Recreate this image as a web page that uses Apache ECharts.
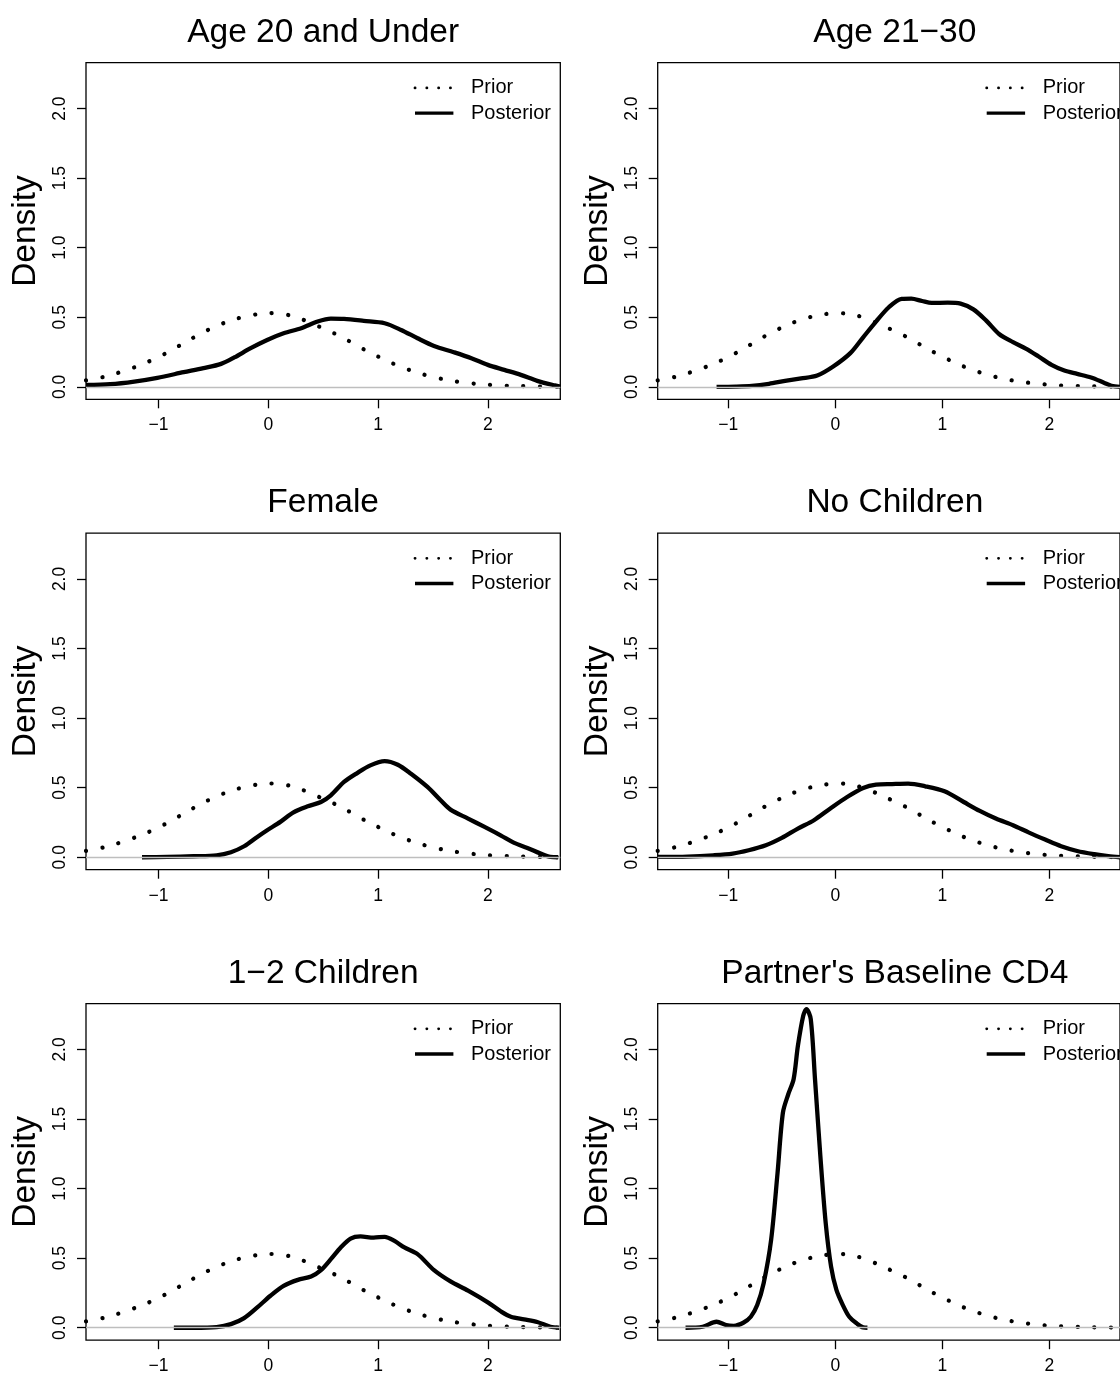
<!DOCTYPE html>
<html><head><meta charset="utf-8">
<script src="https://cdn.jsdelivr.net/npm/echarts@6/dist/echarts.min.js"></script>
<style>html,body{margin:0;padding:0;background:#fff}#c{width:1120px;height:1376px}</style>
</head><body><div id="c"></div>
<script>
// ---------- data ----------
const panelTitles = ['Age 20 and Under', 'Age 21\u221230', 'Female', 'No Children', '1\u22122 Children', "Partner's Baseline CD4"];
const xTicks = [-1, 0, 1, 2];
const yTicks = [0, 0.5, 1.0, 1.5, 2.0];
const xRange = [-1.66, 2.66];
const yRange = [-0.0896, 2.3296];
const seriesNames = ['Prior', 'Posterior'];

// Prior density (same in every panel)
const priorX = [-1.66, -1.5, -1.4, -1.3, -1.2, -1.1, -1.0, -0.9, -0.8, -0.7, -0.6, -0.5, -0.4, -0.3, -0.2, -0.1, 0.0, 0.1, 0.2, 0.3, 0.4, 0.5, 0.6, 0.7, 0.8, 0.9, 1.0, 1.1, 1.2, 1.3, 1.4, 1.5, 1.6, 1.7, 1.8, 1.9, 2.0, 2.1, 2.2, 2.3, 2.4, 2.5, 2.66];
const priorY = [0.046, 0.071, 0.093, 0.118, 0.146, 0.178, 0.213, 0.256, 0.300, 0.345, 0.390, 0.426, 0.460, 0.487, 0.508, 0.522, 0.530, 0.527, 0.513, 0.488, 0.455, 0.420, 0.385, 0.345, 0.300, 0.257, 0.218, 0.180, 0.146, 0.117, 0.092, 0.071, 0.054, 0.040, 0.030, 0.021, 0.015, 0.010, 0.007, 0.005, 0.003, 0.002, 0.001];

// Posterior densities
const postAge20X = [-1.66, -1.44, -1.22, -1.01, -0.77, -0.59, -0.43, -0.31, -0.16, -0.01, 0.14, 0.30, 0.45, 0.57, 0.69, 0.87, 1.06, 1.21, 1.36, 1.51, 1.69, 1.85, 2.00, 2.15, 2.30, 2.45, 2.61, 2.66];
const postAge20Y = [0.013, 0.019, 0.038, 0.065, 0.105, 0.134, 0.165, 0.211, 0.278, 0.337, 0.385, 0.421, 0.469, 0.490, 0.488, 0.474, 0.457, 0.409, 0.349, 0.294, 0.249, 0.206, 0.158, 0.122, 0.086, 0.043, 0.010, 0.002];

const postAge2130X = [-1.11, -0.93, -0.78, -0.62, -0.47, -0.32, -0.17, -0.02, 0.14, 0.26, 0.38, 0.50, 0.62, 0.71, 0.81, 0.90, 1.05, 1.17, 1.29, 1.41, 1.53, 1.66, 1.78, 1.90, 2.02, 2.14, 2.26, 2.39, 2.51, 2.58, 2.66];
const postAge2130Y = [0.0, 0.002, 0.007, 0.022, 0.043, 0.060, 0.081, 0.146, 0.242, 0.356, 0.469, 0.572, 0.632, 0.634, 0.617, 0.603, 0.605, 0.598, 0.557, 0.476, 0.380, 0.321, 0.275, 0.218, 0.158, 0.117, 0.093, 0.067, 0.030, 0.008, 0.0];

const postFemaleX = [-1.15, -0.92, -0.68, -0.47, -0.34, -0.22, -0.10, -0.01, 0.11, 0.23, 0.36, 0.48, 0.57, 0.69, 0.81, 0.93, 1.06, 1.18, 1.30, 1.45, 1.57, 1.66, 1.82, 1.97, 2.12, 2.24, 2.36, 2.48, 2.57, 2.64];
const postFemaleY = [0.0, 0.002, 0.007, 0.014, 0.036, 0.079, 0.146, 0.194, 0.254, 0.323, 0.366, 0.397, 0.445, 0.541, 0.605, 0.660, 0.691, 0.665, 0.600, 0.505, 0.409, 0.342, 0.278, 0.218, 0.156, 0.103, 0.067, 0.026, 0.002, 0.0];

const postNoChildX = [-1.66, -1.38, -1.14, -0.96, -0.81, -0.65, -0.50, -0.35, -0.20, -0.05, 0.11, 0.26, 0.38, 0.53, 0.68, 0.84, 1.02, 1.20, 1.35, 1.50, 1.66, 1.81, 1.96, 2.11, 2.26, 2.42, 2.55, 2.66];
const postNoChildY = [0.002, 0.005, 0.014, 0.026, 0.050, 0.086, 0.139, 0.206, 0.266, 0.349, 0.433, 0.498, 0.522, 0.526, 0.529, 0.510, 0.474, 0.397, 0.333, 0.278, 0.230, 0.177, 0.127, 0.079, 0.045, 0.022, 0.008, 0.0];

const post12ChildX = [-0.86, -0.68, -0.47, -0.34, -0.22, -0.10, 0.02, 0.14, 0.27, 0.39, 0.48, 0.57, 0.66, 0.75, 0.84, 0.96, 1.06, 1.15, 1.24, 1.36, 1.51, 1.66, 1.82, 2.00, 2.12, 2.21, 2.33, 2.45, 2.57, 2.65];
const post12ChildY = [0.0, 0.0, 0.005, 0.026, 0.069, 0.146, 0.230, 0.301, 0.344, 0.368, 0.414, 0.493, 0.577, 0.641, 0.656, 0.648, 0.653, 0.624, 0.577, 0.529, 0.414, 0.333, 0.266, 0.182, 0.117, 0.079, 0.060, 0.041, 0.007, 0.0];

const postCD4X = [-1.40, -1.24, -1.11, -1.02, -0.95, -0.86, -0.79, -0.73, -0.67, -0.60, -0.54, -0.49, -0.44, -0.39, -0.35, -0.30, -0.27, -0.23, -0.19, -0.14, -0.09, -0.04, 0.01, 0.07, 0.13, 0.20, 0.26, 0.30];
const postCD4Y = [0.0, 0.007, 0.043, 0.019, 0.014, 0.036, 0.079, 0.163, 0.320, 0.632, 1.113, 1.546, 1.678, 1.786, 2.026, 2.243, 2.290, 2.219, 1.786, 1.233, 0.752, 0.440, 0.272, 0.163, 0.079, 0.031, 0.002, 0.0];

const posteriors = [
  [postAge20X, postAge20Y], [postAge2130X, postAge2130Y],
  [postFemaleX, postFemaleY], [postNoChildX, postNoChildY],
  [post12ChildX, post12ChildY], [postCD4X, postCD4Y]
];

// ---------- layout ----------
const FONT = '"Liberation Sans", Arial, Helvetica, sans-serif';
const colLeft = [86, 657.7];
const rowTop = [62.7, 533.1, 1003.6];
const GW = 474.3, GH = 336.6;

const zip = (xs, ys) => xs.map((x, i) => [x, ys[i]]);
const fmtX = v => (v < 0 ? '\u2212' + Math.abs(v) : String(v));
const hiddenSymbol = { color: 'rgba(0,0,0,0)', borderWidth: 0, opacity: 0 };

const grids = [], xAxes = [], yAxes = [], series = [], titles = [], legends = [];
for (let i = 0; i < 6; i++) {
  const c = i % 2, r = Math.floor(i / 2);
  const left = colLeft[c], top = rowTop[r];
  grids.push({ left: left, top: top, width: GW, height: GH, show: true,
    borderColor: '#000', borderWidth: 1.3, backgroundColor: 'transparent', containLabel: false });
  xAxes.push({ type: 'value', gridIndex: i, min: xRange[0], max: xRange[1],
    splitLine: { show: false },
    axisLine: { show: false, onZero: false },
    axisTick: { show: true, inside: false, length: 9, customValues: xTicks, lineStyle: { color: '#000', width: 1.3 } },
    axisLabel: { show: true, customValues: xTicks, margin: 17, formatter: fmtX,
      color: '#000', fontSize: 17.5, fontFamily: FONT }
  });
  yAxes.push({ type: 'value', gridIndex: i, min: yRange[0], max: yRange[1],
    name: 'Density', nameLocation: 'middle', nameRotate: 90, nameGap: 43,
    nameTextStyle: { fontSize: 33.5, color: '#000', fontFamily: FONT },
    splitLine: { show: false },
    axisLine: { show: false, onZero: false },
    axisTick: { show: true, inside: false, length: 9, customValues: yTicks, lineStyle: { color: '#000', width: 1.3 } },
    axisLabel: { show: true, customValues: yTicks, rotate: 90, margin: 17,
      formatter: v => v.toFixed(1), color: '#000', fontSize: 17.5, fontFamily: FONT }
  });
  titles.push({ text: panelTitles[i], left: left + GW / 2, top: top - 47, textAlign: 'center', padding: 0,
    textStyle: { fontSize: 33.5, fontWeight: 'normal', color: '#000', fontFamily: FONT } });
  legends.push({ orient: 'vertical', left: left + 327.3, top: top + 15.2, padding: 0,
    itemWidth: 38.4, itemHeight: 14, itemGap: 5.2, selectedMode: false,
    textStyle: { fontSize: 20, color: '#000', fontFamily: FONT, lineHeight: 20, padding: [0, 0, 0, 12.6] },
    data: [
      { name: seriesNames[0], itemStyle: hiddenSymbol,
        lineStyle: { color: '#000', width: 2.8, type: [0.1, 11.7], cap: 'round' } },
      { name: seriesNames[1], itemStyle: hiddenSymbol,
        lineStyle: { color: '#000', width: 3.4, type: 'solid', cap: 'butt' } }
    ]
  });
  series.push({ name: seriesNames[0], type: 'line', xAxisIndex: i, yAxisIndex: i,
    data: zip(priorX, priorY), smooth: 0.3, symbol: 'none', z: 2, color: '#000',
    lineStyle: { color: '#000', width: 4.2, type: [0.1, 16.5], cap: 'round' },
    markLine: { silent: true, symbol: ['none', 'none'], label: { show: false },
      lineStyle: { color: '#bebebe', width: 1.3, type: 'solid' }, data: [{ yAxis: 0 }] }
  });
  series.push({ name: seriesNames[1], type: 'line', xAxisIndex: i, yAxisIndex: i,
    data: zip(posteriors[i][0], posteriors[i][1]), smooth: 0.3, symbol: 'none', z: 3, color: '#000',
    lineStyle: { color: '#000', width: 4.3, type: 'solid', cap: 'butt', join: 'round' }
  });
}

const chart = echarts.init(document.getElementById('c'), null, { renderer: 'canvas' });
chart.setOption({
  animation: false,
  backgroundColor: '#fff',
  title: titles, legend: legends, grid: grids, xAxis: xAxes, yAxis: yAxes, series: series
});
</script></body></html>
